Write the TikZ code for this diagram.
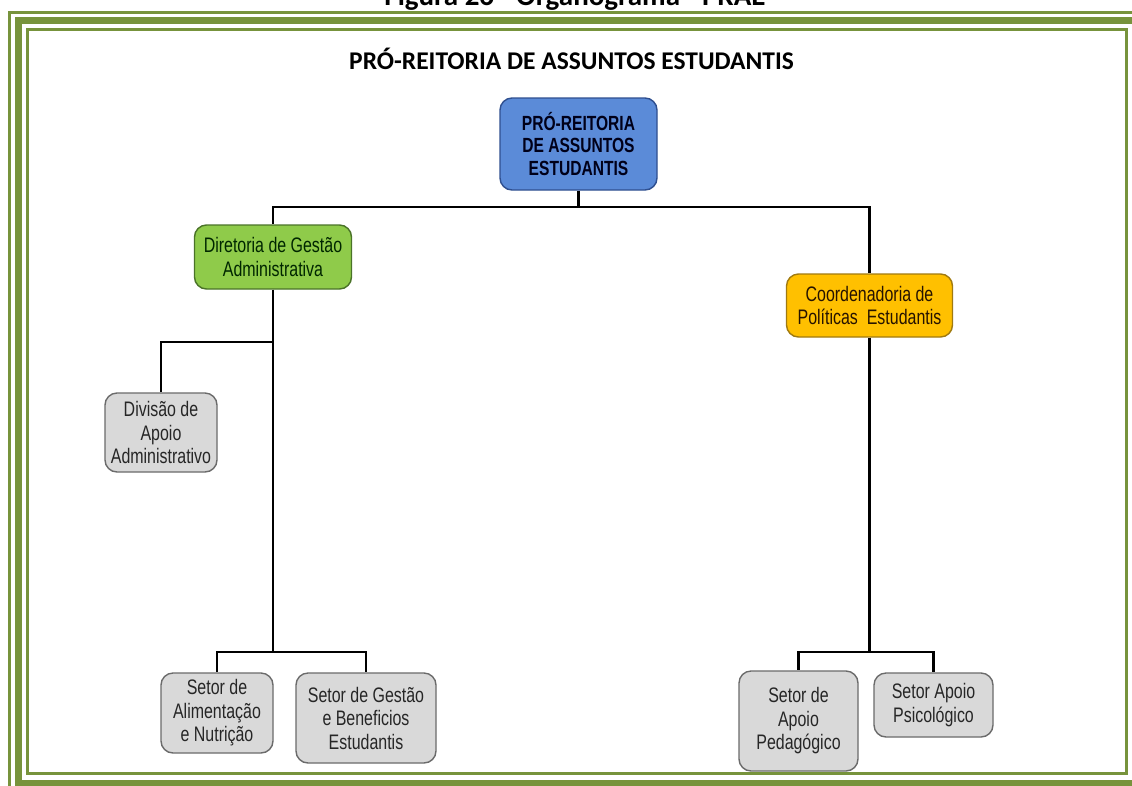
\documentclass[tikz,border=0pt]{standalone}
\usepackage{fontspec}
\newfontfamily\narrowfont[FakeStretch=0.76]{Liberation Sans}
\newfontfamily\calfont{Carlito}
\definecolor{framegreen}{HTML}{77933C}
\definecolor{bluefill}{HTML}{5B8BD8}
\definecolor{blueline}{HTML}{2F4F8F}
\definecolor{greenfill}{HTML}{8FCB4A}
\definecolor{greenline}{HTML}{4A7328}
\definecolor{orangefill}{HTML}{FFC000}
\definecolor{orangeline}{HTML}{A07A10}
\definecolor{grayfill}{HTML}{D9D9D9}
\definecolor{grayline}{HTML}{6B6B6B}
\tikzset{
  frameline/.style={draw=framegreen},
  orgbox/.style={draw, line width=1.4pt, rounded corners=12pt, align=center, inner sep=0pt,
    font=\narrowfont\fontsize{21}{23.5}\selectfont},
  bluebox/.style={orgbox, fill=bluefill, draw=blueline, text=black!90!blue, font=\narrowfont\bfseries\fontsize{20.5}{22.5}\selectfont},
  greenbox/.style={orgbox, fill=greenfill, draw=greenline, text=black!85!green},
  orangebox/.style={orgbox, fill=orangefill, draw=orangeline, text=black!85!orange},
  graybox/.style={orgbox, fill=grayfill, draw=grayline, text=black!85},
  link/.style={draw=black, line width=2.4pt},
}
\begin{document}
\begin{tikzpicture}[x=1pt,y=-1pt]
\useasboundingbox (0,0) rectangle (1132,785);
\clip (0,0) rectangle (1132,785);
\fill[white] (0,0) rectangle (1132,785);
% frames
\draw[frameline, line width=3pt] (9.5,12) rectangle (1145.5,792);
\draw[frameline, line width=7pt] (18.5,20.5) rectangle (1136.5,783);
\draw[frameline, line width=3pt] (27.5,29.5) rectangle (1126.5,773.5);
% caption and title
\node[anchor=base, inner sep=0pt, font=\calfont\bfseries\fontsize{29}{32}\selectfont] (caption) at (575,5) {Figura 26 - Organograma - PRAE};
\node[anchor=base, inner sep=0pt, font=\calfont\bfseries\fontsize{25.5}{28}\selectfont] (title) at (571.5,69) {PRÓ-REITORIA DE ASSUNTOS ESTUDANTIS};
% boxes
\node[bluebox, minimum width=157pt, minimum height=92pt] (pro) at (578.5,144) {PRÓ-REITORIA\\DE ASSUNTOS\\ESTUDANTIS};
\node[greenbox, minimum width=157pt, minimum height=64pt] (dir) at (273,257) {Diretoria de Gestão\\Administrativa};
\node[orangebox, minimum width=166pt, minimum height=63pt] (coord) at (869.5,305.5) {Coordenadoria de\\Políticas\ \ Estudantis};
\node[graybox, minimum width=112pt, minimum height=79pt] (div) at (161,432.5) {Divisão de\\Apoio\\Administrativo};
\node[graybox, minimum width=112pt, minimum height=80pt] (alim) at (217,713) {Setor de\\Alimentação\\e Nutrição};
\node[graybox, minimum width=140pt, minimum height=90pt] (gest) at (366,718) {Setor de Gestão\\e Beneficios\\Estudantis};
\node[graybox, minimum width=119pt, minimum height=100pt] (ped) at (798.5,721) {Setor de\\Apoio\\Pedagógico};
\node[graybox, minimum width=119pt, minimum height=64pt] (psi) at (933.5,705) {Setor Apoio\\Psicológico};
% hubs
\coordinate (h1) at (578.5,207);
\coordinate (h2) at (273,342);
\coordinate (h3) at (273,652);
\coordinate (h4) at (869.5,652);
% connectors
\draw[link] (pro) -- (h1);
\draw[link] (h1) -| (dir);
\draw[link] (h1) -| (coord);
\draw[link] (dir) -- (h3);
\draw[link] (h2) -| (div);
\draw[link] (h3) -| (alim);
\draw[link] (h3) -| (gest);
\draw[link] (coord) -- (h4);
\draw[link] (h4) -| (ped);
\draw[link] (h4) -| (psi);
\end{tikzpicture}
\end{document}
